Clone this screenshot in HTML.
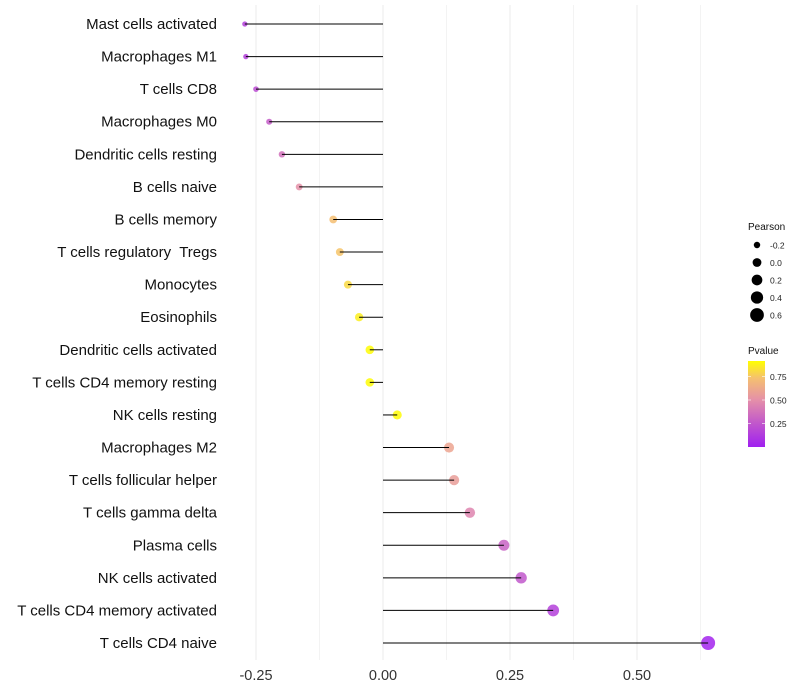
<!DOCTYPE html>
<html><head><meta charset="utf-8">
<style>body{margin:0;background:#fff}svg{display:block;font-family:"Liberation Sans",sans-serif}text{white-space:pre}</style>
</head><body>
<svg id="chart" width="800" height="700">
<defs><linearGradient id="pg" x1="0" y1="1" x2="0" y2="0">
<stop offset="0" stop-color="#A020F0"/><stop offset="0.3" stop-color="#C45CC8"/><stop offset="0.55" stop-color="#E590A8"/><stop offset="0.8" stop-color="#F5C070"/><stop offset="1" stop-color="#FFFF00"/></linearGradient></defs>
</svg>
<script>
const categories=["Mast cells activated","Macrophages M1","T cells CD8","Macrophages M0","Dendritic cells resting","B cells naive","B cells memory","T cells regulatory  Tregs","Monocytes","Eosinophils","Dendritic cells activated","T cells CD4 memory resting","NK cells resting","Macrophages M2","T cells follicular helper","T cells gamma delta","Plasma cells","NK cells activated","T cells CD4 memory activated","T cells CD4 naive"];
const pearson=[-0.272,-0.27,-0.25,-0.224,-0.199,-0.165,-0.098,-0.085,-0.069,-0.047,-0.026,-0.026,0.028,0.13,0.14,0.171,0.238,0.272,0.335,0.64];
const pvalue=[0.14,0.14,0.2,0.27,0.36,0.5,0.72,0.74,0.8,0.86,0.9,0.9,0.9,0.6,0.56,0.45,0.3,0.25,0.15,0.02];
const xTicks=[-0.25,0,0.25,0.5];
const xTickLabels=["-0.25","0.00","0.25","0.50"];
const sizeLegend=[-0.2,0,0.2,0.4,0.6];
const pLegend=[0.25,0.5,0.75];
const svg=document.getElementById('chart');const NS='http://www.w3.org/2000/svg';
function el(t,a,p){const e=document.createElementNS(NS,t);for(const k in a)e.setAttribute(k,a[k]);(p||svg).appendChild(e);return e;}
const x=v=>383+v*508;
const y=i=>24+i*(643-24)/19;
const r=v=>Math.sqrt(Math.max(3,19.5+46*v));
const pal=[[0,[160,32,240]],[0.27,[196,92,200]],[0.5,[229,144,168]],[0.73,[245,192,112]],[0.91,[255,255,0]]];
function col(p){p=Math.max(0,Math.min(0.91,p));for(let i=1;i<pal.length;i++){if(p<=pal[i][0]){const [a,ca]=pal[i-1],[b,cb]=pal[i];const t=(p-a)/(b-a);return 'rgb('+ca.map((c,j)=>Math.round(c+(cb[j]-c)*t)).join(',')+')';}}return 'rgb(255,255,0)';}
for(let v=-0.25;v<=0.63;v+=0.125){const g=el('line',{x1:x(v),x2:x(v),y1:5,y2:660,stroke:'#ebebeb','stroke-width':Math.abs((v/0.25)%1)<1e-6?1:0.6});
}
xTicks.forEach((v,i)=>{const t=el('text',{x:x(v),y:680,'text-anchor':'middle','font-size':14.5,fill:'#333'});t.textContent=xTickLabels[i];
});
categories.forEach((c,i)=>{
const t=el('text',{x:217,y:y(i)+5,'text-anchor':'end','font-size':15,fill:'#111'});t.textContent=c;

const pt=el('circle',{cx:x(pearson[i]),cy:y(i),r:r(pearson[i]),fill:col(pvalue[i]),'fill-opacity':0.85});

const ln=el('line',{x1:x(0),x2:x(pearson[i]),y1:y(i),y2:y(i),stroke:'#000','stroke-width':1});

});
const lt=el('text',{x:748,y:230,'font-size':10,fill:'#111'});lt.textContent='Pearson';

sizeLegend.forEach((v,i)=>{const cy=245+i*17.5;
const c=el('circle',{cx:757,cy:cy,r:r(v),fill:'#000'});
const t=el('text',{x:770,y:cy+3.5,'font-size':8.5,fill:'#222'});t.textContent=v.toFixed(1);});
const pt2=el('text',{x:748,y:354,'font-size':10,fill:'#111'});pt2.textContent='Pvalue';

const bar=el('rect',{x:748,y:361,width:17,height:86,fill:'url(#pg)'});
pLegend.forEach(v=>{const cy=447-v*94;
el('line',{x1:748,x2:751,y1:cy,y2:cy,stroke:'#fff','stroke-opacity':0.6});el('line',{x1:762,x2:765,y1:cy,y2:cy,stroke:'#fff','stroke-opacity':0.6});
const t=el('text',{x:770,y:cy+3.5,'font-size':8.5,fill:'#222'});t.textContent=v.toFixed(2);});
</script>
</body></html>
